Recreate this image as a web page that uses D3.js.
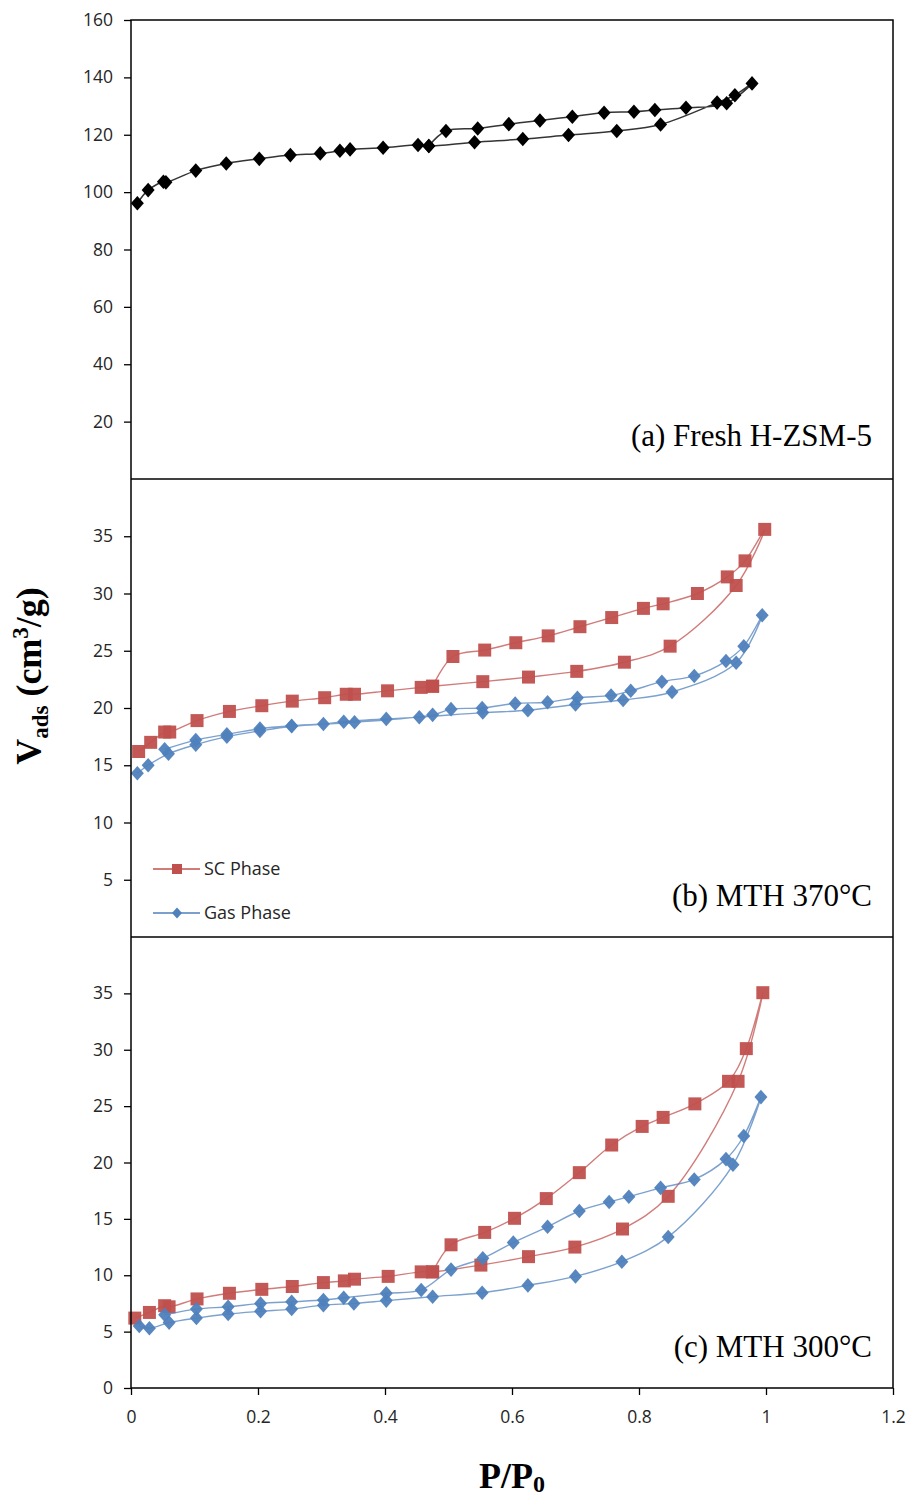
<!DOCTYPE html>
<html>
<head>
<meta charset="utf-8">
<script src="https://cdn.jsdelivr.net/npm/d3@7"></script>
<style>
  body { margin: 0; background: #fff; }
  .tick text { font-family: "Open Sans", sans-serif; font-size: 17.5px; fill: #262626; }
  .tick line { stroke: #000; stroke-width: 1.3; }
</style>
</head>
<body>
<div id="chart"></div>
<script>
// ---- data: [P/P0, Vads] ----
// (a) Fresh H-ZSM-5
var freshAds = [[0.010,96.1],[0.027,100.7],[0.051,103.6],[0.055,103.4],[0.102,107.5],[0.150,110.0],[0.202,111.6],[0.251,112.9],[0.298,113.5],[0.329,114.4],[0.345,114.9],[0.397,115.5],[0.452,116.4],[0.469,116.1],[0.541,117.4],[0.617,118.5],[0.689,119.9],[0.765,121.3],[0.834,123.6],[0.923,131.2],[0.951,133.8],[0.978,137.9]];
var freshDes = [[0.938,131.0],[0.874,129.4],[0.825,128.6],[0.792,128.0],[0.745,127.7],[0.695,126.3],[0.644,125.0],[0.595,123.7],[0.546,122.2],[0.496,121.3],[0.469,116.1]];

// (b) MTH 370°C
var scB_Ads = [[0.012,16.2],[0.031,17.0],[0.053,17.9],[0.061,17.9],[0.104,18.9],[0.155,19.7],[0.206,20.2],[0.254,20.6],[0.305,20.9],[0.339,21.2],[0.352,21.2],[0.404,21.5],[0.457,21.8],[0.475,21.9],[0.554,22.3],[0.626,22.7],[0.702,23.2],[0.777,24.0],[0.849,25.4],[0.953,30.7],[0.998,35.6]];
var scB_Des = [[0.967,32.85],[0.939,31.45],[0.892,30.0],[0.838,29.1],[0.807,28.7],[0.757,27.9],[0.707,27.1],[0.657,26.3],[0.606,25.7],[0.557,25.06],[0.507,24.5],[0.475,21.9]];
var gasB_Ads = [[0.010,14.3],[0.027,15.0],[0.059,16.0],[0.102,16.8],[0.151,17.5],[0.203,18.0],[0.253,18.4],[0.303,18.6],[0.335,18.8],[0.402,19.05],[0.454,19.2],[0.554,19.6],[0.625,19.8],[0.700,20.3],[0.775,20.7],[0.852,21.4],[0.953,23.95],[0.994,28.1]];
var gasB_Des = [[0.965,25.4],[0.937,24.1],[0.887,22.8],[0.836,22.3],[0.787,21.5],[0.756,21.1],[0.703,20.9],[0.656,20.5],[0.605,20.4],[0.553,20.0],[0.504,19.9],[0.475,19.4],[0.352,18.75],[0.253,18.45],[0.203,18.2],[0.151,17.7],[0.102,17.2],[0.053,16.4]];

// (c) MTH 300°C
var scC_Ads = [[0.006,6.2],[0.029,6.7],[0.053,7.3],[0.060,7.2],[0.104,7.9],[0.155,8.4],[0.206,8.75],[0.254,9.0],[0.303,9.35],[0.336,9.5],[0.352,9.65],[0.405,9.9],[0.457,10.3],[0.475,10.3],[0.551,10.9],[0.626,11.65],[0.699,12.5],[0.774,14.1],[0.846,17.0],[0.956,27.2],[0.995,35.06]];
var scC_Des = [[0.969,30.1],[0.941,27.2],[0.888,25.2],[0.838,24.0],[0.805,23.2],[0.757,21.55],[0.706,19.1],[0.654,16.8],[0.604,15.05],[0.557,13.8],[0.504,12.7],[0.475,10.3]];
var gasC_Ads = [[0.013,5.5],[0.029,5.3],[0.060,5.8],[0.103,6.2],[0.153,6.56],[0.204,6.8],[0.253,7.0],[0.303,7.35],[0.351,7.5],[0.402,7.75],[0.475,8.1],[0.553,8.45],[0.625,9.1],[0.700,9.9],[0.773,11.2],[0.846,13.4],[0.948,19.8],[0.992,25.8]];
var gasC_Des = [[0.965,22.35],[0.937,20.3],[0.887,18.5],[0.834,17.75],[0.784,16.97],[0.753,16.5],[0.706,15.7],[0.656,14.3],[0.602,12.9],[0.554,11.5],[0.504,10.5],[0.457,8.7],[0.402,8.4],[0.335,8.0],[0.303,7.8],[0.253,7.65],[0.204,7.5],[0.153,7.2],[0.103,7.0],[0.053,6.5]];

var xTickValues = [0, 0.2, 0.4, 0.6, 0.8, 1, 1.2];
var yTicksA = [20, 40, 60, 80, 100, 120, 140, 160];
var yTicksB = [5, 10, 15, 20, 25, 30, 35];
var yTicksC = [0, 5, 10, 15, 20, 25, 30, 35];
var panelLabels = ["(a) Fresh H-ZSM-5", "(b) MTH 370°C", "(c) MTH 300°C"];
var legendNames = ["SC Phase", "Gas Phase"];

var RED = "#C0504D", BLUE = "#4F81BD", BLACK = "#000";

// ---- layout ----
var width = 913, height = 1500;
var left = 131, right = 893;
var panelTops = [20, 479, 937];
var panelBottoms = [479, 937, 1388];

var svg = d3.select("#chart").append("svg")
    .attr("width", width)
    .attr("height", height);

var x = d3.scaleLinear().domain([0, 1.2]).range([left, right]);

var panels = [
    {domain: [0, 160], ticks: yTicksA, series: [
        {data: freshAds.concat(freshDes), color: BLACK}
    ]},
    {domain: [0, 40], ticks: yTicksB, series: [
        {data: scB_Ads.concat(scB_Des), color: RED, marker: "square"},
        {data: gasB_Ads.concat(gasB_Des), color: BLUE, marker: "diamond"}
    ]},
    {domain: [0, 40], ticks: yTicksC, series: [
        {data: scC_Ads.concat(scC_Des), color: RED, marker: "square"},
        {data: gasC_Ads.concat(gasC_Des), color: BLUE, marker: "diamond"}
    ]}
];

function markerPath(type, s) {
    // s = half width
    if (type === "square") return "M" + (-s) + "," + (-s) + "h" + (2 * s) + "v" + (2 * s) + "h" + (-2 * s) + "Z";
    var h = s * 1.12;
    return "M0," + (-h) + "L" + s + ",0L0," + h + "L" + (-s) + ",0Z";
}

panels.forEach(function (p, i) {
    var y = d3.scaleLinear().domain(p.domain).range([panelBottoms[i], panelTops[i]]);
    var g = svg.append("g").attr("class", "panel");

    var yAxis = d3.axisLeft(y).tickValues(p.ticks).tickSize(7).tickPadding(11).tickFormat(d3.format("d"));
    g.append("g")
        .attr("transform", "translate(" + left + ",0)")
        .call(yAxis)
        .call(function (a) { a.select(".domain").remove(); });

    var line = d3.line()
        .x(function (d) { return x(d[0]); })
        .y(function (d) { return y(d[1]); })
        .curve(d3.curveCatmullRom.alpha(0.5));

    p.series.forEach(function (s) {
        var isBlack = s.color === BLACK;
        g.append("path")
            .datum(s.data)
            .attr("fill", "none")
            .attr("stroke", isBlack ? "#111" : s.color)
            .attr("stroke-opacity", isBlack ? 0.85 : 0.75)
            .attr("stroke-width", isBlack ? 1.5 : 1.4)
            .attr("d", line);

        g.selectAll(null)
            .data(s.data)
            .enter().append("path")
            .attr("transform", function (d) { return "translate(" + x(d[0]) + "," + y(d[1]) + ")"; })
            .attr("d", markerPath(s.marker || "diamond", 6.5))
            .attr("fill", s.color)
            .attr("fill-opacity", isBlack ? 1 : 0.95);
    });

    g.append("text")
        .attr("x", 872)
        .attr("y", [446, 906, 1357][i])
        .attr("text-anchor", "end")
        .style("font-family", "'Liberation Serif', serif")
        .style("font-size", "31px")
        .attr("fill", "#000")
        .text(panelLabels[i]);
});

// x axis at the bottom
svg.append("g")
    .attr("transform", "translate(0," + panelBottoms[2] + ")")
    .call(d3.axisBottom(x).tickValues(xTickValues).tickSize(7).tickPadding(16).tickFormat(d3.format("~g")))
    .call(function (a) { a.select(".domain").remove(); });

// frame and panel separators
svg.append("rect")
    .attr("x", left).attr("y", panelTops[0])
    .attr("width", right - left).attr("height", panelBottoms[2] - panelTops[0])
    .attr("fill", "none").attr("stroke", "#000").attr("stroke-width", 1.5);

[panelTops[1], panelTops[2]].forEach(function (yy) {
    svg.append("line")
        .attr("x1", left).attr("x2", right)
        .attr("y1", yy).attr("y2", yy)
        .attr("stroke", "#000").attr("stroke-width", 1.5);
});

// legend in panel (b)
var legend = svg.append("g").attr("class", "legend");
[{name: legendNames[0], color: RED, marker: "square", y: 869},
 {name: legendNames[1], color: BLUE, marker: "diamond", y: 913}].forEach(function (l) {
    legend.append("line")
        .attr("x1", 153).attr("x2", 200)
        .attr("y1", l.y).attr("y2", l.y)
        .attr("stroke", l.color).attr("stroke-width", 1.5);
    legend.append("path")
        .attr("transform", "translate(177," + l.y + ")")
        .attr("d", markerPath(l.marker, 5))
        .attr("fill", l.color);
    legend.append("text")
        .attr("x", 204).attr("y", l.y)
        .attr("dy", "0.35em")
        .style("font-family", "'Open Sans', sans-serif")
        .style("font-size", "18px")
        .attr("fill", "#262626")
        .text(l.name);
});

// axis titles
var yTitle = svg.append("text")
    .attr("transform", "translate(41,676) rotate(-90)")
    .attr("text-anchor", "middle")
    .style("font-family", "'Liberation Serif', serif")
    .style("font-weight", "bold")
    .style("font-size", "36px");
yTitle.append("tspan").text("V");
yTitle.append("tspan").attr("dy", 7).style("font-size", "23px").text("ads");
yTitle.append("tspan").attr("dy", -7).text(" (cm");
yTitle.append("tspan").attr("dy", -13).style("font-size", "23px").text("3");
yTitle.append("tspan").attr("dy", 13).text("/g)");

var xTitle = svg.append("text")
    .attr("x", 512).attr("y", 1488)
    .attr("text-anchor", "middle")
    .style("font-family", "'Liberation Serif', serif")
    .style("font-weight", "bold")
    .style("font-size", "36px");
xTitle.append("tspan").text("P/P");
xTitle.append("tspan").attr("dy", 4).style("font-size", "24px").text("0");
</script>
</body>
</html>
